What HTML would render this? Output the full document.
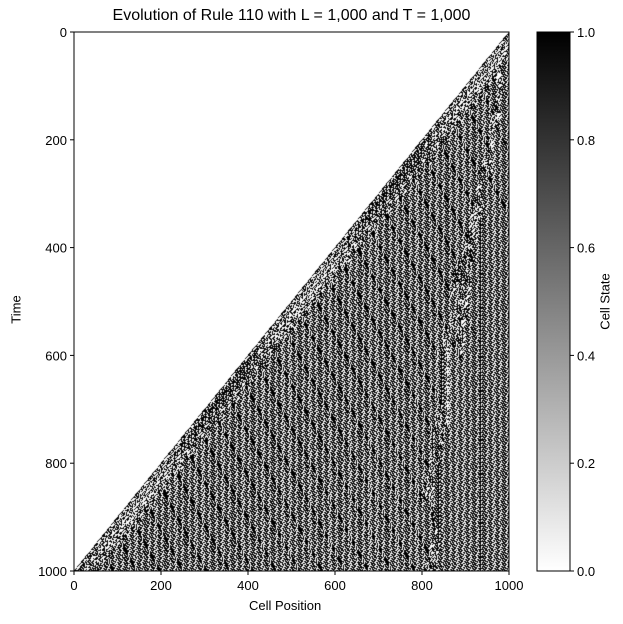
<!DOCTYPE html>
<html><head><meta charset="utf-8"><style>
body{margin:0;background:#fff;font-family:"Liberation Sans",sans-serif;}
#wrap{position:relative;width:623px;height:624px;overflow:hidden;}
canvas{position:absolute;}
.t{position:absolute;font-size:13px;color:#000;white-space:nowrap;}
</style></head><body>
<div id="wrap">
<div class="t" style="left:0;width:583px;text-align:center;top:7px;font-size:16px;">Evolution of Rule 110 with L = 1,000 and T = 1,000</div>
<canvas id="ca" width="435" height="539" style="left:74px;top:32px;"></canvas>
<svg id="ax" width="623" height="624" style="position:absolute;left:0;top:0;"></svg>
<div class="t" style="left:249px;top:598px;">Cell Position</div>
<div class="t" style="left:2px;top:302px;transform:rotate(-90deg);">Time</div>
<div class="t" style="left:577px;top:294px;transform:rotate(-90deg);">Cell State</div>
</div>
<script>
const ruleNum=[110];
const sizeL=[1000];
const sizeT=[1000];
const xTicks=[0,200,400,600,800,1000];
const yTicks=[0,200,400,600,800,1000];
const cbTicks=[0.0,0.2,0.4,0.6,0.8,1.0];

const L=sizeL[0],T=sizeT[0],R=ruleNum[0];
const X0=74,X1=509,Y0=32,Y1=571;
const sx=v=>X0+(v/L)*(X1-X0);
const sy=v=>Y0+(v/T)*(Y1-Y0);

const off=document.createElement('canvas');off.width=L;off.height=T;
const oc=off.getContext('2d');const img=oc.createImageData(L,T);
let row=new Uint8Array(L);row[L-1]=1;
for(let t=0;t<T;t++){
  for(let i=0;i<L;i++){const v=row[i]?0:255,k=(t*L+i)*4;img.data[k]=img.data[k+1]=img.data[k+2]=v;img.data[k+3]=255;}
  const n=new Uint8Array(L);
  for(let i=0;i<L;i++){const l=i>0?row[i-1]:0,c=row[i],r=i<L-1?row[i+1]:0;n[i]=(R>>((l<<2)|(c<<1)|r))&1;}
  row=n;
}
oc.putImageData(img,0,0);
const ctx=document.getElementById('ca').getContext('2d');
ctx.imageSmoothingEnabled=false;
ctx.drawImage(off,0,0,X1-X0,Y1-Y0);

const NS='http://www.w3.org/2000/svg',svg=document.getElementById('ax');
function mk(tag,a,txt){const e=document.createElementNS(NS,tag);for(const k in a)e.setAttribute(k,a[k]);if(txt!==undefined)e.textContent=txt;svg.appendChild(e);return e;}
let fr=mk('rect',{x:X0,y:Y0,width:X1-X0,height:Y1-Y0,fill:'none',stroke:'#000','stroke-width':1});


xTicks.forEach(v=>{const x=sx(v);
  let l=mk('line',{x1:x,x2:x,y1:Y1,y2:Y1+4,stroke:'#000'});
  
  
  let t=mk('text',{x:x,y:Y1+19,'text-anchor':'middle','font-size':13,'font-family':'Liberation Sans'},String(v));
  
  });
yTicks.forEach(v=>{const y=sy(v);
  let l=mk('line',{x1:X0-4,x2:X0,y1:y,y2:y,stroke:'#000'});
  
  
  let t=mk('text',{x:X0-7,y:y+5,'text-anchor':'end','font-size':13,'font-family':'Liberation Sans'},String(v));
  
  });
const CX0=537,CX1=570;
const defs=mk('defs',{});
const g=document.createElementNS(NS,'linearGradient');g.setAttribute('id','cg');g.setAttribute('x1','0');g.setAttribute('y1','1');g.setAttribute('x2','0');g.setAttribute('y2','0');
[['0','#fff'],['1','#000']].forEach(s=>{const st=document.createElementNS(NS,'stop');st.setAttribute('offset',s[0]);st.setAttribute('stop-color',s[1]);g.appendChild(st);});
defs.appendChild(g);
let cb=mk('rect',{x:CX0,y:Y0,width:CX1-CX0,height:Y1-Y0,fill:'url(#cg)',stroke:'#000'});


const cy=v=>Y1-v*(Y1-Y0);
cbTicks.forEach(v=>{const y=cy(v);
  let l=mk('line',{x1:CX1,x2:CX1+4,y1:y,y2:y,stroke:'#000'});
  
  
  let t=mk('text',{x:CX1+7,y:y+5,'font-size':13,'font-family':'Liberation Sans'},v.toFixed(1));
  
  });
</script>
</body></html>
